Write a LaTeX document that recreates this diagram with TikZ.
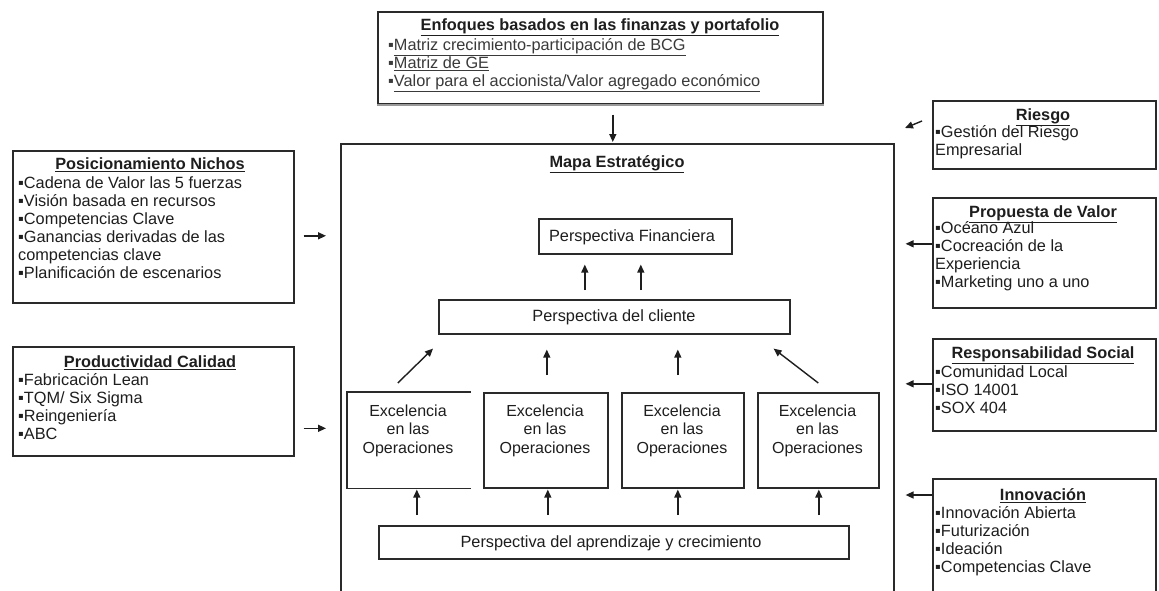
\documentclass[tikz,border=0pt]{standalone}
\usepackage{fontspec}
\setmainfont{Liberation Sans}
\usetikzlibrary{arrows.meta,calc}
\definecolor{ink}{HTML}{1E1E1E}
\definecolor{edge}{HTML}{2A2A2A}
\definecolor{soft}{HTML}{3A3A3A}
\begin{document}
\begin{tikzpicture}[x=1pt,y=-1pt,
  frame/.style={draw=edge, line width=1.6pt, inner sep=0pt, anchor=north west},
  edgeline/.style={draw=edge, line width=1.6pt},
  txt/.style={inner sep=0pt, font=\fontsize{16.3}{18}\selectfont, text=ink},
  body/.style={txt, align=left, anchor=north west},
  ttl/.style={txt, anchor=base, font=\fontsize{16.3}{18}\selectfont\bfseries},
  exl/.style={txt, align=center, anchor=north, font=\fontsize{16}{18.5}\selectfont},
  arr/.style={-{Triangle[length=8pt,width=7pt]}, line width=1.4pt, draw=ink},
]
\useasboundingbox (0,0) rectangle (1159,590);
\fill[white] (0,0) rectangle (1159,590);

% ---------- frames ----------
\node[frame, minimum width=445pt, minimum height=92pt] (tb) at (377,11) {};
\draw[line width=2pt, draw=gray!80] (tb.south west) -- (tb.south east);
\node[frame, minimum width=553pt, minimum height=470pt] (mb) at (340,143) {};
\node[frame, minimum width=281pt, minimum height=152pt] (pos) at (12,150) {};
\node[frame, minimum width=281pt, minimum height=109pt] (prod) at (12,346) {};
\node[frame, minimum width=223pt, minimum height=68pt] (rsg) at (932,100) {};
\node[frame, minimum width=223pt, minimum height=110pt] (prop) at (932,197) {};
\node[frame, minimum width=223pt, minimum height=92pt] (resp) at (932,338) {};
\node[frame, minimum width=223pt, minimum height=140pt] (inno) at (932,478) {};
\node[frame, minimum width=193pt, minimum height=35pt] (fin) at (538,218) {};
\node[frame, minimum width=351pt, minimum height=34pt] (cl) at (438,299) {};
\node[frame, draw=none, minimum width=122pt, minimum height=95pt] (ex1) at (347,392) {};
\draw[edgeline] (ex1.north east) -- (ex1.north west) -- (ex1.south west) -- (ex1.south east);
\node[frame, minimum width=124pt, minimum height=95pt] (ex2) at (483,392) {};
\node[frame, minimum width=122pt, minimum height=95pt] (ex3) at (621,392) {};
\node[frame, minimum width=121pt, minimum height=95pt] (ex4) at (757,392) {};
\node[frame, minimum width=470pt, minimum height=33pt] (ap) at (378,525) {};

% ---------- texts ----------
\node[ttl] (tbT) at (600,30.5) {\underline{Enfoques basados en las finanzas y portafolio}};
\node[body, text=soft] (tbB) at (388,38) {\strut▪\underline{Matriz crecimiento-participación de BCG}\\▪\underline{Matriz de GE}\\▪\underline{Valor para el accionista/Valor agregado económico}};

\node[ttl] (posT) at (150,169.5) {\underline{Posicionamiento Nichos}};
\node[body] (posB) at (18,176) {\strut▪Cadena de Valor las 5 fuerzas\\▪Visión basada en recursos\\▪Competencias Clave\\▪Ganancias derivadas de las\\competencias clave\\▪Planificación de escenarios};

\node[ttl] (prodT) at (150,367.5) {\underline{Productividad Calidad}};
\node[body] (prodB) at (18,373) {\strut▪Fabricación Lean\\▪TQM/ Six Sigma\\▪Reingeniería\\▪ABC};

\node[ttl] (rsgT) at (1043,120.5) {\underline{Riesgo}};
\node[body] (rsgB) at (935,125) {\strut▪Gestión del Riesgo\\Empresarial};

\node[ttl] (propT) at (1043,217.5) {\underline{Propuesta de Valor}};
\node[body] (propB) at (935,221) {\strut▪Océano Azul\\▪Cocreación de la\\Experiencia\\▪Marketing uno a uno};

\node[ttl] (respT) at (1043,358.5) {\underline{Responsabilidad Social}};
\node[body] (respB) at (935,365) {\strut▪Comunidad Local\\▪ISO 14001\\▪SOX 404};

\node[ttl] (innoT) at (1043,500.5) {\underline{Innovación}};
\node[body] (innoB) at (935,506) {\strut▪Innovación Abierta\\▪Futurización\\▪Ideación\\▪Competencias Clave};

\node[ttl] (mbT) at (617,167.5) {\underline{Mapa Estratégico}};
\node[txt, anchor=base] (finT) at (632,241) {Perspectiva Financiera};
\node[txt, anchor=base] (clT) at (614,321.5) {Perspectiva del cliente};
\node[txt, anchor=base] (apT) at (611,547) {Perspectiva del aprendizaje y crecimiento};
\node[exl] (ex1T) at (408,403) {\strut Excelencia\\en las\\Operaciones};
\node[exl] (ex2T) at (545,403) {\strut Excelencia\\en las\\Operaciones};
\node[exl] (ex3T) at (682,403) {\strut Excelencia\\en las\\Operaciones};
\node[exl] (ex4T) at (817.5,403) {\strut Excelencia\\en las\\Operaciones};

% ---------- connectors ----------
\draw[arr] ($(tb.south)+(12.5,10)$) -- ($(tb.south |- mb.north)+(12.5,-1)$);
\draw[arr] ($(cl.north)+(-29.5,-9)$) -- ($(fin.south)+(-50.5,10)$);
\draw[arr] ($(cl.north)+(26.5,-9)$) -- ($(fin.south)+(5.5,10)$);
\draw[arr] ($(ex1.north)+(-11,-9)$) -- ($(cl.south west)+(-5,14)$);
\draw[arr] ($(ex2.north)+(1,-17)$) -- ($(ex2.north |- cl.south)+(1,15)$);
\draw[arr] ($(ex3.north)+(-5,-17)$) -- ($(ex3.north |- cl.south)+(-5,15)$);
\draw[arr] ($(ex4.north)+(0,-9)$) -- ($(cl.south east)+(-17,14)$);
\draw[arr] ($(ex1.south |- ap.north)+(8,-10)$) -- ($(ex1.south)+(8,1)$);
\draw[arr] ($(ex2.south |- ap.north)+(2,-10)$) -- ($(ex2.south)+(2,1)$);
\draw[arr] ($(ex3.south |- ap.north)+(-5,-10)$) -- ($(ex3.south)+(-5,1)$);
\draw[arr] ($(ex4.south |- ap.north)+(0.5,-10)$) -- ($(ex4.south)+(0.5,1)$);
\draw[arr] ($(pos.east)+(9,9)$) -- ($(pos.east -| mb.west)+(-14,9)$);
\draw[arr] ($(prod.east)+(9,27)$) -- ($(prod.east -| mb.west)+(-14,27)$);
\draw[arr] ($(rsg.north west)+(-10,21)$) -- ($(rsg.north west)+(-27,28)$);
\draw[arr] ($(prop.west)+(0,-9)$) -- ($(prop.west -| mb.east)+(11,-9)$);
\draw[arr] ($(resp.west)+(0,-1)$) -- ($(resp.west -| mb.east)+(11,-1)$);
\draw[arr] ($(inno.north west)+(0,17)$) -- ($(inno.north west -| mb.east)+(11,17)$);
\end{tikzpicture}
\end{document}
